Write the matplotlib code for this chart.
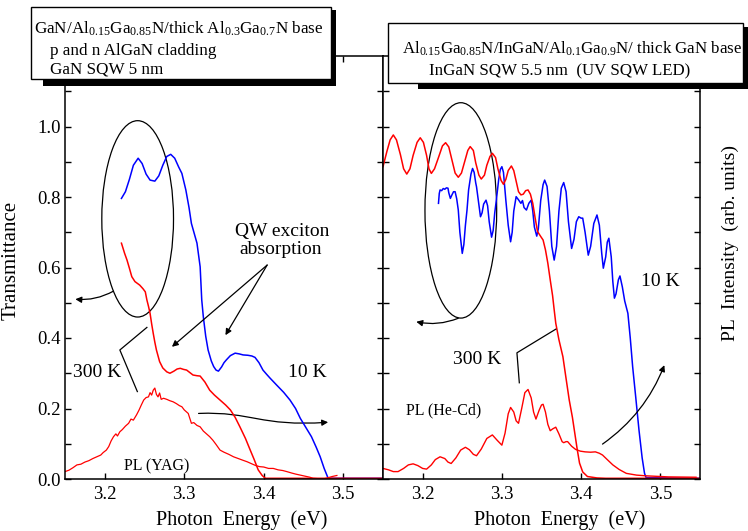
import matplotlib
matplotlib.use('Agg')
import matplotlib.pyplot as plt
from matplotlib.patches import Ellipse, Rectangle, FancyArrowPatch
from matplotlib.path import Path
from matplotlib.ticker import FormatStrFormatter

plt.rcParams['font.family'] = ['Liberation Serif', 'DejaVu Serif']
plt.rcParams['mathtext.fontset'] = 'custom'
plt.rcParams['mathtext.rm'] = 'Liberation Serif'
plt.rcParams['mathtext.it'] = 'Liberation Serif:italic'
plt.rcParams['mathtext.bf'] = 'Liberation Serif:bold'

# ---------------- data ----------------
xticks = [3.2, 3.3, 3.4, 3.5]
yticks_major = [0.0, 0.2, 0.4, 0.6, 0.8, 1.0]
yticks_minor = [0.1, 0.3, 0.5, 0.7, 0.9, 1.1]

# Left panel: 10 K transmittance (blue)
L10_E = [3.221, 3.226, 3.231, 3.236, 3.242, 3.247, 3.252, 3.257, 3.263, 3.268, 3.273, 3.278,
         3.283, 3.288, 3.293, 3.297, 3.302, 3.306, 3.309, 3.316, 3.320, 3.322, 3.324, 3.327,
         3.330, 3.334, 3.337, 3.340, 3.343, 3.347, 3.350, 3.353, 3.358, 3.364, 3.369, 3.374,
         3.380, 3.385, 3.389, 3.394, 3.399, 3.404, 3.408, 3.416, 3.425, 3.433, 3.440, 3.446,
         3.453, 3.460, 3.466, 3.471, 3.476, 3.481, 3.550]
L10_T = [0.796, 0.815, 0.850, 0.890, 0.910, 0.895, 0.865, 0.848, 0.845, 0.860, 0.890, 0.915,
         0.921, 0.910, 0.885, 0.867, 0.820, 0.770, 0.725, 0.669, 0.602, 0.508, 0.460, 0.405,
         0.366, 0.335, 0.319, 0.309, 0.306, 0.318, 0.330, 0.338, 0.350, 0.357, 0.355, 0.352,
         0.351, 0.349, 0.345, 0.330, 0.309, 0.296, 0.286, 0.267, 0.246, 0.224, 0.200, 0.172,
         0.146, 0.120, 0.090, 0.063, 0.030, 0.002, 0.002]

# Left panel: 300 K transmittance (red)
L300_E = [3.221, 3.225, 3.228, 3.231, 3.234, 3.238, 3.244, 3.248, 3.251, 3.253, 3.255, 3.257,
          3.259, 3.261, 3.263, 3.265, 3.269, 3.273, 3.278, 3.282, 3.287, 3.291, 3.295, 3.299,
          3.303, 3.307, 3.311, 3.316, 3.320, 3.326, 3.332, 3.338, 3.345, 3.352, 3.358, 3.364,
          3.370, 3.377, 3.383, 3.388, 3.393, 3.398, 3.402, 3.550]
L300_T = [0.669, 0.640, 0.621, 0.598, 0.574, 0.560, 0.550, 0.540, 0.531, 0.508, 0.490, 0.470,
          0.440, 0.413, 0.388, 0.366, 0.333, 0.315, 0.304, 0.300, 0.306, 0.312, 0.314, 0.311,
          0.309, 0.302, 0.295, 0.293, 0.292, 0.275, 0.252, 0.238, 0.224, 0.210, 0.196, 0.175,
          0.148, 0.115, 0.082, 0.055, 0.026, 0.010, 0.002, 0.002]

# Left panel: PL (YAG) (red)
LPL_E = [3.150, 3.155, 3.160, 3.165, 3.170, 3.175, 3.180, 3.185, 3.190, 3.195, 3.198, 3.202,
         3.205, 3.208, 3.211, 3.214, 3.216, 3.219, 3.222, 3.226, 3.230, 3.233, 3.236, 3.240,
         3.243, 3.246, 3.249, 3.252, 3.255, 3.257, 3.259, 3.261, 3.263, 3.265, 3.267, 3.269,
         3.271, 3.274, 3.278, 3.282, 3.286, 3.290, 3.294, 3.297, 3.300, 3.303, 3.305, 3.307,
         3.309, 3.312, 3.316, 3.320, 3.324, 3.328, 3.332, 3.336, 3.340, 3.345, 3.350, 3.356,
         3.362, 3.368, 3.374, 3.379, 3.385, 3.390, 3.395, 3.400, 3.406, 3.412, 3.418, 3.424,
         3.429, 3.435, 3.440, 3.446, 3.452, 3.458, 3.462, 3.468, 3.475, 3.480, 3.486, 3.492]
LPL_T = [0.021, 0.025, 0.032, 0.040, 0.042, 0.048, 0.052, 0.058, 0.063, 0.068, 0.075, 0.082,
         0.092, 0.108, 0.120, 0.128, 0.122, 0.134, 0.140, 0.150, 0.158, 0.170, 0.167, 0.182,
         0.195, 0.210, 0.224, 0.231, 0.233, 0.245, 0.238, 0.252, 0.258, 0.240, 0.233, 0.244,
         0.226, 0.229, 0.226, 0.222, 0.219, 0.214, 0.208, 0.205, 0.196, 0.190, 0.186, 0.172,
         0.158, 0.160, 0.152, 0.148, 0.136, 0.128, 0.120, 0.110, 0.098, 0.082, 0.076, 0.070,
         0.063, 0.058, 0.053, 0.049, 0.043, 0.038, 0.035, 0.034, 0.030, 0.030, 0.026, 0.024,
         0.021, 0.017, 0.014, 0.011, 0.008, 0.005, 0.002, 0.001, 0.000, 0.003, 0.007, 0.010]

# Right panel: 10 K transmittance (blue)
R10_E = [3.220, 3.221, 3.222, 3.224, 3.226, 3.228, 3.230, 3.232, 3.233, 3.235, 3.237, 3.239,
         3.241, 3.243, 3.245, 3.247, 3.250, 3.252, 3.254, 3.256, 3.258, 3.261, 3.263, 3.265,
         3.267, 3.268, 3.270, 3.273, 3.275, 3.277, 3.280, 3.282, 3.284, 3.287, 3.289, 3.291,
         3.293, 3.296, 3.298, 3.300, 3.302, 3.305, 3.308, 3.311, 3.313, 3.315, 3.318, 3.321,
         3.324, 3.326, 3.328, 3.331, 3.334, 3.337, 3.339, 3.341, 3.344, 3.346, 3.349, 3.352,
         3.354, 3.357, 3.360, 3.363, 3.366, 3.369, 3.372, 3.375, 3.378, 3.381, 3.384, 3.388,
         3.391, 3.394, 3.397, 3.400, 3.402, 3.405, 3.409, 3.412, 3.416, 3.420, 3.423, 3.426,
         3.428, 3.431, 3.433, 3.435, 3.438, 3.440, 3.442, 3.444, 3.447, 3.449, 3.452, 3.455,
         3.459, 3.462, 3.465, 3.469, 3.473, 3.477, 3.480, 3.482, 3.550]
R10_T = [0.782, 0.810, 0.820, 0.818, 0.824, 0.822, 0.826, 0.825, 0.812, 0.796, 0.806, 0.815,
         0.815, 0.795, 0.763, 0.700, 0.640, 0.665, 0.720, 0.763, 0.820, 0.865, 0.881, 0.870,
         0.840, 0.829, 0.795, 0.744, 0.755, 0.780, 0.791, 0.775, 0.730, 0.686, 0.705, 0.755,
         0.791, 0.850, 0.878, 0.886, 0.870, 0.791, 0.720, 0.673, 0.700, 0.760, 0.801, 0.792,
         0.782, 0.790, 0.770, 0.763, 0.782, 0.791, 0.760, 0.715, 0.689, 0.710, 0.790, 0.835,
         0.848, 0.830, 0.760, 0.660, 0.621, 0.660, 0.760, 0.825, 0.841, 0.815, 0.730, 0.654,
         0.680, 0.730, 0.744, 0.740, 0.740, 0.700, 0.635, 0.660, 0.725, 0.749, 0.720, 0.640,
         0.598, 0.630, 0.672, 0.683, 0.630, 0.560, 0.513, 0.525, 0.565, 0.576, 0.545, 0.505,
         0.470, 0.400, 0.319, 0.230, 0.139, 0.060, 0.016, 0.004, 0.002]

# Right panel: 300 K transmittance (red)
R300_E = [3.150, 3.155, 3.159, 3.163, 3.167, 3.172, 3.176, 3.180, 3.184, 3.188, 3.193, 3.197,
          3.201, 3.205, 3.208, 3.211, 3.215, 3.220, 3.225, 3.229, 3.233, 3.237, 3.241, 3.245,
          3.249, 3.253, 3.257, 3.260, 3.264, 3.267, 3.271, 3.274, 3.278, 3.281, 3.285, 3.288,
          3.292, 3.295, 3.299, 3.302, 3.305, 3.308, 3.312, 3.315, 3.318, 3.321, 3.324, 3.327,
          3.330, 3.333, 3.336, 3.339, 3.342, 3.345, 3.349, 3.352, 3.355, 3.358, 3.361, 3.364,
          3.366, 3.368, 3.372, 3.377, 3.381, 3.385, 3.389, 3.392, 3.395, 3.398, 3.402, 3.408,
          3.420, 3.431, 3.550]
R300_T = [0.886, 0.930, 0.962, 0.976, 0.962, 0.920, 0.880, 0.865, 0.880, 0.918, 0.955, 0.968,
          0.955, 0.918, 0.880, 0.867, 0.880, 0.912, 0.945, 0.954, 0.942, 0.905, 0.868, 0.856,
          0.868, 0.900, 0.932, 0.943, 0.932, 0.897, 0.862, 0.851, 0.862, 0.890, 0.915, 0.924,
          0.912, 0.880, 0.847, 0.836, 0.850, 0.875, 0.888, 0.875, 0.845, 0.815, 0.806, 0.808,
          0.818, 0.820, 0.808, 0.782, 0.740, 0.702, 0.688, 0.678, 0.650, 0.612, 0.565, 0.520,
          0.480, 0.442, 0.395, 0.347, 0.285, 0.224, 0.175, 0.130, 0.085, 0.045, 0.020, 0.007,
          0.003, 0.002, 0.002]

# Right panel: PL (He-Cd) (red)
RPL_E = [3.150, 3.157, 3.163, 3.169, 3.176, 3.182, 3.188, 3.194, 3.200, 3.205, 3.211, 3.216,
         3.222, 3.228, 3.232, 3.236, 3.242, 3.248, 3.254, 3.259, 3.264, 3.268, 3.274, 3.281,
         3.288, 3.294, 3.300, 3.304, 3.308, 3.311, 3.315, 3.318, 3.321, 3.325, 3.329, 3.333,
         3.337, 3.340, 3.343, 3.347, 3.350, 3.352, 3.355, 3.358, 3.361, 3.364, 3.368, 3.372,
         3.376, 3.378, 3.381, 3.383, 3.388, 3.393, 3.399, 3.405, 3.412, 3.418, 3.423, 3.427,
         3.433, 3.440, 3.448, 3.457, 3.470, 3.482, 3.510, 3.545]
RPL_T = [0.030, 0.026, 0.021, 0.021, 0.030, 0.040, 0.043, 0.038, 0.030, 0.028, 0.040, 0.055,
         0.063, 0.058, 0.048, 0.044, 0.060, 0.082, 0.090, 0.083, 0.070, 0.066, 0.085, 0.115,
         0.125, 0.110, 0.096, 0.130, 0.185, 0.203, 0.190, 0.165, 0.158, 0.200, 0.245, 0.254,
         0.230, 0.190, 0.170, 0.195, 0.210, 0.212, 0.190, 0.155, 0.137, 0.142, 0.147, 0.128,
         0.106, 0.103, 0.106, 0.106, 0.093, 0.084, 0.079, 0.077, 0.076, 0.077, 0.073, 0.068,
         0.055, 0.040, 0.027, 0.016, 0.011, 0.009, 0.006, 0.005]

box_left_lines = ['GaN/Al$_{0.15}$Ga$_{0.85}$N/thick Al$_{0.3}$Ga$_{0.7}$N base',
                  'p and n AlGaN cladding',
                  'GaN SQW 5 nm']
box_right_lines = ['Al$_{0.15}$Ga$_{0.85}$N/InGaN/Al$_{0.1}$Ga$_{0.9}$N/ thick GaN base',
                   'InGaN SQW 5.5 nm  (UV SQW LED)']

RED = '#ff0000'
BLUE = '#0000ff'

# ---------------- figure ----------------
W, H = 748, 531
fig = plt.figure(figsize=(W / 100, H / 100), dpi=100)
fig.patch.set_facecolor('white')


def fx(x):
    return x / W


def fy(y):
    return 1 - y / H


axL = fig.add_axes([fx(65), fy(479), (383 - 65) / W, (479 - 56) / H])
axR = fig.add_axes([fx(383), fy(479), (700 - 383) / W, (479 - 56) / H])

for ax in (axL, axR):
    ax.set_xlim(3.15, 3.55)
    ax.set_ylim(0, 1.2)
    ax.set_xticks(xticks)
    ax.set_yticks(yticks_major)
    ax.set_yticks(yticks_minor, minor=True)
    ax.yaxis.set_major_formatter(FormatStrFormatter('%.1f'))
    ax.xaxis.set_major_formatter(FormatStrFormatter('%.1f'))
    ax.tick_params(which='both', direction='in', top=True, right=True,
                   length=4.5, width=1.0, labelsize=13.5, pad=5)
    ax.tick_params(axis='y', pad=3)
    for s in ax.spines.values():
        s.set_linewidth(1.1)
    ax.set_xlabel('Photon  Energy  (eV)', fontsize=14.5, va='baseline')
    ax.xaxis.set_label_coords(0.557, -0.108)

axR.tick_params(labelleft=False)

# data lines
axL.plot(L10_E, L10_T, color=BLUE, lw=1.1)
axL.plot(L300_E, L300_T, color=RED, lw=1.1)
axL.plot(LPL_E, LPL_T, color=RED, lw=0.9)
axR.plot(R10_E, R10_T, color=BLUE, lw=1.1)
axR.plot(R300_E, R300_T, color=RED, lw=1.1)
axR.plot(RPL_E, RPL_T, color=RED, lw=1.0)

# labels
axL.set_ylabel('Transmittance', fontsize=15)
axL.yaxis.set_label_coords(-0.138, 0.516)
axR.yaxis.set_label_position('right')
axR.set_ylabel('PL  Intensity  (arb. units)', fontsize=14, rotation=90)
axR.yaxis.set_label_coords(1.069, 0.559)

# ellipses
axL.add_patch(Ellipse((3.2414, 0.738), 0.0902, 0.557, fill=False, ec='k', lw=0.9))
axR.add_patch(Ellipse((3.2482, 0.762), 0.0905, 0.611, fill=False, ec='k', lw=0.9))

ap = dict(arrowstyle='-|>', color='k', lw=0.9, mutation_scale=9, shrinkA=0, shrinkB=0)

# left panel annotations
axL.annotate('', xy=(3.163, 0.510), xytext=(3.211, 0.533),
             arrowprops=dict(ap, connectionstyle='arc3,rad=-0.15'))
axL.text(3.4232, 0.689, 'QW exciton', fontsize=14, ha='center', va='baseline')
axL.text(3.4211, 0.638, 'absorption', fontsize=14, ha='center', va='baseline')
axL.annotate('', xy=(3.2845, 0.375), xytext=(3.4043, 0.607), arrowprops=ap)
axL.annotate('', xy=(3.3518, 0.408), xytext=(3.4043, 0.607), arrowprops=ap)
axL.plot([3.253, 3.219, 3.241], [0.430, 0.366, 0.248], color='k', lw=0.9)
axL.text(3.1597, 0.288, '300 K', fontsize=14, ha='left', va='baseline')
axL.text(3.4303, 0.288, '10 K', fontsize=14, ha='left', va='baseline')
axL.text(3.2244, 0.0255, 'PL (YAG)', fontsize=11.5, ha='left', va='baseline')
s_path = Path([(3.318, 0.186), (3.385, 0.192), (3.395, 0.148), (3.481, 0.161)],
              [Path.MOVETO, Path.CURVE4, Path.CURVE4, Path.CURVE4])
axL.add_patch(FancyArrowPatch(path=s_path, arrowstyle='-|>', color='k', lw=0.9,
                              mutation_scale=9))

# right panel annotations
axR.annotate('', xy=(3.192, 0.446), xytext=(3.245, 0.456),
             arrowprops=dict(ap, connectionstyle='arc3,rad=-0.15'))
axR.plot([3.368, 3.319, 3.322], [0.425, 0.358, 0.273], color='k', lw=0.9)
axR.text(3.238, 0.326, '300 K', fontsize=14, ha='left', va='baseline')
axR.text(3.4754, 0.548, '10 K', fontsize=14, ha='left', va='baseline')
axR.text(3.179, 0.184, 'PL (He-Cd)', fontsize=11.5, ha='left', va='baseline')
axR.annotate('', xy=(3.505, 0.323), xytext=(3.427, 0.099),
             arrowprops=dict(ap, connectionstyle='arc3,rad=0.15'))


# ---------------- title boxes ----------------
def add_box(x0, y0, x1, y1, sx0, sy0, sx1, sy1):
    fig.add_artist(Rectangle((fx(sx0), fy(sy1)), (sx1 - sx0) / W, (sy1 - sy0) / H,
                             transform=fig.transFigure, fc='k', ec='none', zorder=5))
    fig.add_artist(Rectangle((fx(x0), fy(y1)), (x1 - x0) / W, (y1 - y0) / H,
                             transform=fig.transFigure, fc='white', ec='k', lw=1.0, zorder=6))


add_box(31, 7, 331, 79, 43, 10, 335.5, 86)
add_box(388, 23, 743, 83, 418, 27, 748, 89)

fig.text(fx(34), fy(34), box_left_lines[0], fontsize=12.3, ha='left', va='baseline', zorder=7)
fig.text(fx(50), fy(55), box_left_lines[1], fontsize=12.3, ha='left', va='baseline', zorder=7)
fig.text(fx(50), fy(74), box_left_lines[2], fontsize=12.3, ha='left', va='baseline', zorder=7)
fig.text(fx(402), fy(53.5), box_right_lines[0], fontsize=12.2, ha='left', va='baseline', zorder=7)
fig.text(fx(429), fy(75.5), box_right_lines[1], fontsize=12.2, ha='left', va='baseline', zorder=7)

fig.savefig('out.png', dpi=100)
